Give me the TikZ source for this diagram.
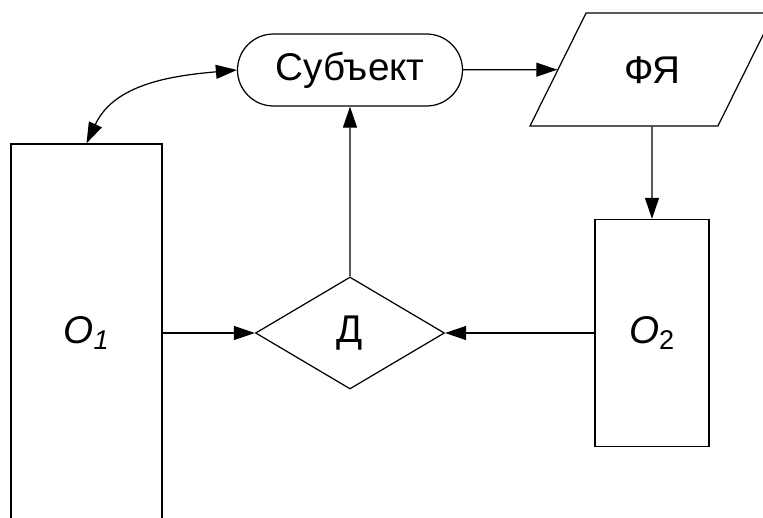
\documentclass[tikz,border=0pt]{standalone}
\usepackage{fontspec}
\setmainfont{Liberation Sans}
\usetikzlibrary{positioning}
\usetikzlibrary{arrows.meta}
\usetikzlibrary{shapes.geometric}
\usetikzlibrary{shapes.misc}
\tikzset{>={Triangle[length=4.2mm,width=2.8mm]}}
\tikzset{every node/.style={font=\fontsize{22}{26}\selectfont}}
\tikzset{subjbox/.style={draw,rounded rectangle,minimum width=4.5cm,minimum height=1.44cm,inner sep=0pt}}
\tikzset{langbox/.style={draw,trapezium,trapezium left angle=63.6,trapezium right angle=116.4,trapezium stretches body,minimum width=4.88cm,inner sep=0pt,text height=1.41cm,text depth=0.85cm}}
\tikzset{objbox/.style={draw,rectangle,inner sep=0pt}}
\tikzset{decide/.style={draw,diamond,minimum width=3.78cm,minimum height=2.24cm,inner sep=0pt}}

\begin{document}
\begin{tikzpicture}[on grid, line width=0.7pt]
        \useasboundingbox (0,0) rectangle (15.26,-10.36);
        \clip (0,0) rectangle (15.26,-10.36);

        \node[decide] (dd) at (7.0,-6.66) {Д};
        \node[subjbox, above=5.26 of dd] (subj) {Субъект};
        \node[objbox, minimum width=2.28cm, minimum height=4.54cm, right=6.04 of dd] (o2) {\textit{O}\textsubscript{2}};
        \node[langbox, above=5.27 of o2] (fya) {ФЯ};
        \node[objbox, minimum width=3.02cm, minimum height=7.56cm] (o1) at (1.73,-6.66) {\textit{O\textsubscript{1}}};

        \draw [->] (o1) -- (dd);
        \draw [->] (o2) -- (dd);
        \draw [->] (dd) -- (subj);
        \draw [->] (subj) -- (fya);
        \draw [->] (fya) -- (o2);
        \draw [<->] (o1.north) to[out=65, in=185] (subj.west);
    \end{tikzpicture}
\end{document}
